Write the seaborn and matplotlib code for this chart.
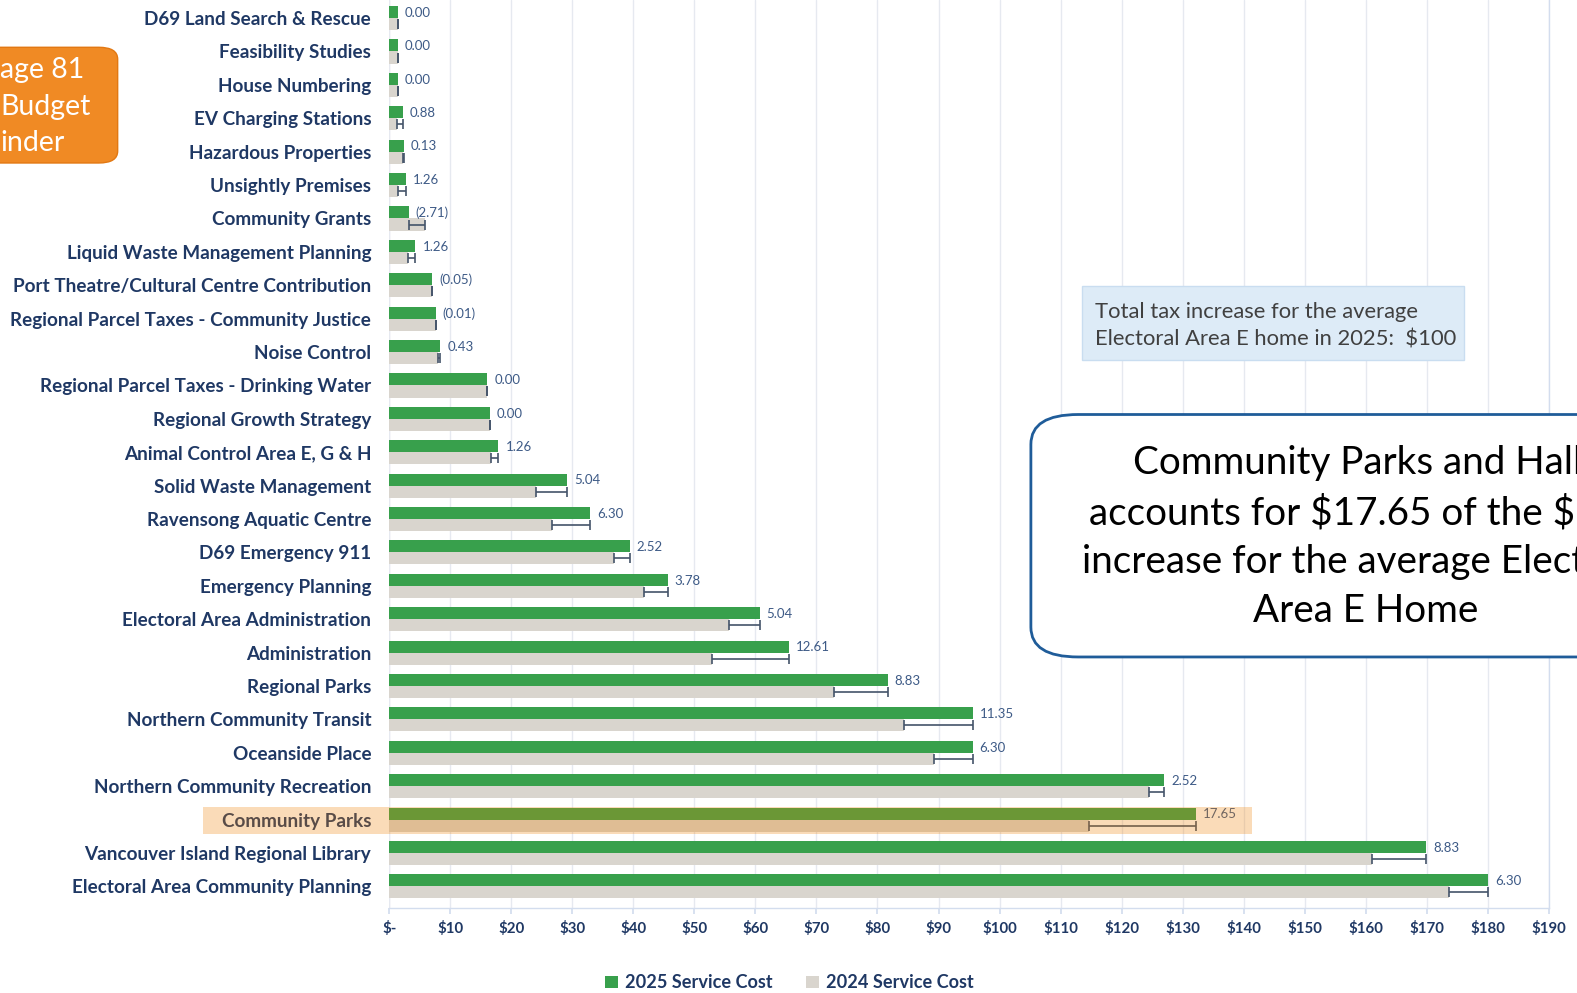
import numpy as np
import pandas as pd
import matplotlib
matplotlib.use("Agg")
import matplotlib.pyplot as plt
import seaborn as sns
from matplotlib.patches import FancyBboxPatch, Rectangle, Patch

categories = [
    "D69 Land Search & Rescue", "Feasibility Studies", "House Numbering",
    "EV Charging Stations", "Hazardous Properties", "Unsightly Premises",
    "Community Grants", "Liquid Waste Management Planning",
    "Port Theatre/Cultural Centre Contribution",
    "Regional Parcel Taxes - Community Justice", "Noise Control",
    "Regional Parcel Taxes - Drinking Water", "Regional Growth Strategy",
    "Animal Control Area E, G & H", "Solid Waste Management",
    "Ravensong Aquatic Centre", "D69 Emergency 911", "Emergency Planning",
    "Electoral Area Administration", "Administration", "Regional Parks",
    "Northern Community Transit", "Oceanside Place",
    "Northern Community Recreation", "Community Parks",
    "Vancouver Island Regional Library", "Electoral Area Community Planning",
]
cost_2025 = [1.4, 1.4, 1.4, 2.2, 2.4, 2.8, 3.2, 4.3, 7.0, 7.6, 8.4, 16.1, 16.5,
             17.9, 29.1, 32.9, 39.4, 45.6, 60.7, 65.5, 81.7, 95.6, 95.6, 127.0,
             132.2, 169.9, 180.0]
cost_2024 = [1.4, 1.4, 1.4, 1.3, 2.3, 1.5, 5.9, 3.0, 7.05, 7.6, 8.0, 16.1, 16.5,
             16.6, 24.1, 26.6, 36.9, 41.8, 55.7, 52.9, 72.9, 84.3, 89.3, 124.5,
             114.6, 161.1, 173.7]
change_labels = ["0.00", "0.00", "0.00", "0.88", "0.13", "1.26", "(2.71)", "1.26",
                 "(0.05)", "(0.01)", "0.43", "0.00", "0.00", "1.26", "5.04", "6.30",
                 "2.52", "3.78", "5.04", "12.61", "8.83", "11.35", "6.30", "2.52",
                 "17.65", "8.83", "6.30"]
series_names = ["2025 Service Cost", "2024 Service Cost"]
xticks_vals = list(range(0, 200, 10))
xtick_labels = ["$-"] + [f"${v}" for v in xticks_vals[1:]]

W, H = 1568, 987
GREEN = "#38A04C"
GRAY = "#D9D5CE"
NAVY = "#1F3864"
EBAR = "#44546A"

df = pd.DataFrame({
    "category": categories * 2,
    "series": [series_names[0]] * len(categories) + [series_names[1]] * len(categories),
    "value": cost_2025 + cost_2024,
})

sns.set_theme(style="white")
plt.rcParams["font.family"] = ["Lato", "DejaVu Sans"]
plt.rcParams["text.parse_math"] = False

fig = plt.figure(figsize=(15.77, 9.93), dpi=100)
ax = fig.add_axes([387 / W, 84 / H, (1540 - 387) / W, 903 / H])
ax.patch.set_alpha(0)

bw = 0.72
sns.barplot(data=df, y="category", x="value", hue="series", order=categories,
            hue_order=series_names, palette=[GREEN, GRAY], width=bw,
            orient="h", ax=ax, legend=False, saturation=1)

for p in ax.patches:
    p.set_edgecolor("none")

ys = np.arange(len(categories))
off = bw / 4
lo = np.minimum(cost_2024, cost_2025)
hi = np.maximum(cost_2024, cost_2025)
ax.errorbar((lo + hi) / 2, ys + off, xerr=(hi - lo) / 2, fmt="none",
            ecolor=EBAR, elinewidth=1.2, capsize=3.5, capthick=1.2, zorder=5)

for i, (v, lab) in enumerate(zip(cost_2025, change_labels)):
    ax.annotate(lab, (v, i - off), xytext=(5, -0.5), textcoords="offset points",
                ha="left", va="center", fontsize=9.5, color="#3D5A86")

ax.set_xlim(0, 190)
ax.set_ylim(len(categories) - 1 + 0.66, -0.542)
ax.set_xticks(xticks_vals)
ax.set_xticklabels(xtick_labels)
ax.set_xlabel("")
ax.set_ylabel("")
ax.grid(axis="x", color="#E6E9F0", linewidth=1)
ax.set_axisbelow(True)
for s in ["top", "left"]:
    ax.spines[s].set_visible(False)
for s in ["right", "bottom"]:
    ax.spines[s].set_visible(True)
    ax.spines[s].set_color("#D3DDEE")
    ax.spines[s].set_linewidth(1)
ax.axvline(0, color="#E6E9F0", linewidth=1, zorder=0)
ax.tick_params(axis="y", length=0, pad=13, labelsize=13.6, labelcolor=NAVY)
ax.tick_params(axis="x", length=4, color="#D3DDEE", pad=5, labelsize=10.8,
               labelcolor=NAVY, direction="out", bottom=True)
for t in ax.get_yticklabels() + ax.get_xticklabels():
    t.set_fontweight("bold")

# highlight band for Community Parks
fig.patches.append(Rectangle((202 / W, 1 - 829 / H), (1245 - 202) / W, 27 / H,
                             transform=fig.transFigure, facecolor="#F08000",
                             alpha=0.28, edgecolor="none", zorder=10))

# orange page tag
fig.patches.append(FancyBboxPatch((-20 / W, 1 - 162 / H), 137 / W, 115 / H,
                                  boxstyle="round,pad=0,rounding_size=0.012",
                                  transform=fig.transFigure, facecolor="#F08A24",
                                  edgecolor="#E27812", linewidth=1, zorder=3))
fig.text(0 / W, 1 - 106 / H, "age 81\nBudget\ninder", ha="left", va="center",
         fontsize=20.5, color="white", linespacing=1.5, zorder=4)

# info box
fig.patches.append(Rectangle((1076 / W, 1 - 358 / H), 380 / W, 74 / H,
                             transform=fig.transFigure, facecolor="#DDEBF7",
                             edgecolor="#C9DDF0", linewidth=1, zorder=3))
fig.text(1089 / W, 1 - 324 / H,
         "Total tax increase for the average\nElectoral Area E home in 2025:  $100",
         ha="left", va="center", fontsize=15.8, color="#404040",
         linespacing=1.45, zorder=4)

# callout box
fig.patches.append(FancyBboxPatch((1025 / W, 1 - 653 / H), 700 / W, 241 / H,
                                  boxstyle="round,pad=0,rounding_size=0.03",
                                  transform=fig.transFigure, facecolor="white",
                                  edgecolor="#1F5C99", linewidth=2, zorder=3))
fig.text(1358 / W, 1 - 534 / H,
         "Community Parks and Halls\naccounts for $17.65 of the $100\n"
         "increase for the average Electoral\nArea E Home",
         ha="center", va="center", fontsize=27.8, color="black",
         linespacing=1.45, zorder=4)

handles = [Patch(facecolor=GREEN, edgecolor="none"),
           Patch(facecolor=GRAY, edgecolor="none")]
leg = fig.legend(handles, series_names, loc="center", ncol=2,
                 bbox_to_anchor=(785 / W, 1 - 977 / H), frameon=False,
                 handlelength=0.7, handleheight=0.7, handletextpad=0.4,
                 columnspacing=1.8,
                 prop={"weight": "bold", "size": 13.1})
for t in leg.get_texts():
    t.set_color(NAVY)

fig.savefig("out.png", dpi=100)
